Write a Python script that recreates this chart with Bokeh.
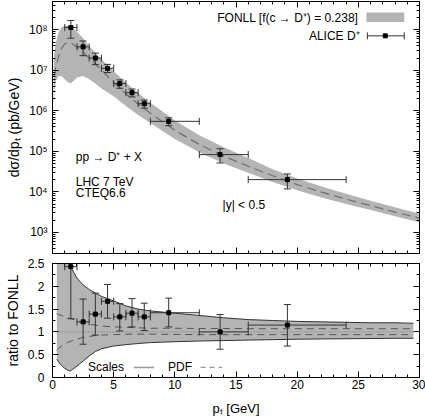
from bokeh.plotting import figure
from bokeh.layouts import column
from bokeh.models import (ColumnDataSource, Whisker, TeeHead, FixedTicker,
                          CustomJSTickFormatter, LinearAxis, LogAxis, Span, Range1d)
from bokeh.core.properties import value
from bokeh.embed import file_html
from bokeh.resources import INLINE

FONT = "Liberation Sans"

# ---------------- data ----------------
# FONLL prediction (top panel)
pt_grid = [0.1, 0.25, 0.5, 0.75, 1.0, 1.25, 1.5, 1.75, 2.0, 2.5, 3.0, 3.5, 4.0, 5.0, 6.0,
           7.0, 8.0, 10, 12, 14, 16, 18, 20, 22, 24, 26, 28, 30]
fonll_c = [7.1e6, 1.12e7, 2.24e7, 3.55e7, 4.47e7, 4.9e7, 4.79e7, 4.27e7, 3.72e7, 2.82e7,
           2.0e7, 1.45e7, 1.02e7, 5.0e6, 2.63e6, 1.48e6, 8.7e5, 3.3e5, 1.48e5, 7.6e4,
           4.27e4, 2.5e4, 1.51e4, 9.8e3, 6.6e3, 4.57e3, 3.16e3, 2.24e3]
fonll_hi = [2.0e7, 4.47e7, 8.9e7, 1.15e8, 1.26e8, 1.26e8, 1.17e8, 1.05e8, 8.9e7, 6.2e7,
            4.0e7, 2.7e7, 1.9e7, 9.5e6, 5.0e6, 2.75e6, 1.58e6, 5.75e5, 2.5e5, 1.26e5,
            6.8e4, 3.6e4, 2.14e4, 1.35e4, 8.9e3, 6.0e3, 4.17e3, 2.88e3]
fonll_lo = [1.41e6, 5.2e6, 7.2e6, 7.1e6, 6.0e6, 5.1e6, 4.8e6, 5.5e6, 6.6e6, 7.2e6,
            6.0e6, 4.7e6, 3.55e6, 2.3e6, 1.32e6, 7.9e5, 5.0e5, 2.0e5, 9.5e4, 5.0e4,
            2.95e4, 1.74e4, 1.1e4, 7.2e3, 5.0e3, 3.55e3, 2.5e3, 1.78e3]

# ALICE D+ data
pt_data = [1.5, 2.5, 3.5, 4.5, 5.5, 6.5, 7.5, 9.5, 13.7, 19.2]
pt_lo = [1, 2, 3, 4, 5, 6, 7, 8, 12, 16]
pt_hi = [2, 3, 4, 5, 6, 7, 8, 12, 16, 24]
sigma = [1.14e8, 3.8e7, 2.0e7, 1.12e7, 4.7e6, 2.8e6, 1.5e6, 5.5e5, 8.3e4, 2.0e4]
sigma_up = [1.7e8, 5.3e7, 2.66e7, 1.4e7, 5.8e6, 3.45e6, 1.85e6, 6.7e5, 1.16e5, 2.76e4]
sigma_dn = [6.2e7, 2.3e7, 1.38e7, 8.8e6, 3.6e6, 2.2e6, 1.16e6, 4.3e5, 5.15e4, 1.18e4]

# ratio panel
ratio = [2.43, 1.22, 1.39, 1.67, 1.33, 1.41, 1.33, 1.42, 1.00, 1.15]
ratio_up = [3.6, 1.72, 1.85, 2.04, 1.62, 1.73, 1.63, 1.74, 1.38, 1.60]
ratio_dn = [1.29, 0.73, 0.93, 1.30, 1.02, 1.11, 1.03, 1.11, 0.62, 0.69]

ratio_pt = [0.35, 0.5, 0.75, 1.0, 1.25, 1.45, 1.75, 2.0, 2.5, 3.0, 3.5, 4.0, 5.0, 6.0,
            7.0, 8.0, 10, 12, 14, 16, 18, 20, 22, 24, 26, 28, 29.5]
scales_hi = [3.9, 3.6, 3.2, 2.75, 2.55, 2.45, 2.3, 2.18, 2.03, 1.93, 1.85, 1.78, 1.68,
             1.57, 1.50, 1.46, 1.41, 1.36, 1.31, 1.27, 1.25, 1.23, 1.22, 1.21, 1.20, 1.20, 1.19]
scales_lo = [0.40, 0.34, 0.26, 0.20, 0.16, 0.14, 0.20, 0.25, 0.36, 0.47, 0.57, 0.63, 0.69,
             0.72, 0.745, 0.765, 0.785, 0.80, 0.81, 0.82, 0.83, 0.84, 0.845, 0.85, 0.855, 0.86, 0.86]
pdf_hi = [1.40, 1.38, 1.36, 1.33, 1.31, 1.29, 1.27, 1.25, 1.21, 1.17, 1.15, 1.13, 1.11,
          1.10, 1.09, 1.08, 1.08, 1.075, 1.075, 1.07, 1.07, 1.07, 1.07, 1.07, 1.07, 1.07, 1.07]
pdf_lo = [0.60, 0.64, 0.69, 0.73, 0.77, 0.79, 0.82, 0.84, 0.88, 0.90, 0.92, 0.93, 0.94,
          0.95, 0.95, 0.95, 0.945, 0.94, 0.94, 0.94, 0.94, 0.94, 0.94, 0.94, 0.94, 0.94, 0.94]

x_major = [0, 5, 10, 15, 20, 25, 30]
x_minor = [v for v in range(0, 31) if v % 5 != 0]
y_major = [1e3, 1e4, 1e5, 1e6, 1e7, 1e8]
y_minor = [m * 10 ** e for e in range(2, 9) for m in range(2, 10)]
r_major = [0, 0.5, 1.0, 1.5, 2.0, 2.5]
r_minor = [0.25, 0.75, 1.25, 1.75, 2.25]

# ---------------- helpers ----------------
EMPTY = CustomJSTickFormatter(code="return ''")
LOGFMT = CustomJSTickFormatter(code="""
const s = {'0':'\u2070','1':'\u00b9','2':'\u00b2','3':'\u00b3','4':'\u2074','5':'\u2075','6':'\u2076','7':'\u2077','8':'\u2078','9':'\u2079','-':'\u207b'};
const e = String(Math.round(Math.log10(tick)));
return '10' + e.split('').map(c => s[c]).join('');
""")
NUMFMT = CustomJSTickFormatter(code="return String(Math.round(tick*100)/100);")
ERR = "#333333"


def style(ax, labels=True):
    ax.major_tick_in = 6
    ax.major_tick_out = 0
    ax.minor_tick_in = 3
    ax.minor_tick_out = 0
    ax.axis_line_color = "black"
    ax.major_tick_line_color = "black"
    ax.minor_tick_line_color = "black"
    ax.major_label_text_font = FONT
    ax.major_label_text_font_size = "12px"
    ax.major_label_text_color = "black"
    ax.axis_label_text_font = FONT
    ax.axis_label_text_font_size = "14px"
    ax.axis_label_text_font_style = "normal"
    ax.axis_label_text_color = "black"
    ax.major_label_standoff = 5
    ax.axis_label_standoff = 4
    if not labels:
        ax.formatter = EMPTY
        ax.major_label_standoff = 0
        ax.axis_label_standoff = 0


def errorbars(fig, source, xl, xh, yl, yh):
    for base, up, lo, dim in (("x", yh, yl, "height"), ("y", xh, xl, "width")):
        fig.add_layout(Whisker(source=source, base=base, upper=up, lower=lo, dimension=dim,
                               line_color=ERR, line_width=1, level="annotation",
                               upper_head=TeeHead(size=7, line_color=ERR, line_width=1),
                               lower_head=TeeHead(size=7, line_color=ERR, line_width=1)))


# ---------------- top panel ----------------
top = figure(width=425, height=258, x_range=Range1d(0, 30), y_range=Range1d(300, 5e8),
             y_axis_type="log", output_backend="svg", toolbar_location=None,
             min_border_left=52, min_border_right=6, min_border_top=1, min_border_bottom=5)
top.grid.visible = False
top.outline_line_color = "black"

top.xaxis[0].ticker = FixedTicker(ticks=x_major, minor_ticks=x_minor)
style(top.xaxis[0], labels=False)
top.yaxis[0].ticker = FixedTicker(ticks=y_major, minor_ticks=y_minor)
top.yaxis[0].formatter = LOGFMT
top.yaxis[0].axis_label = "d\u03c3/dp\u209c (pb/GeV)"
style(top.yaxis[0])
ax_t = LinearAxis(ticker=FixedTicker(ticks=x_major, minor_ticks=x_minor))
style(ax_t, labels=False)
top.add_layout(ax_t, "above")
ax_r = LogAxis(ticker=FixedTicker(ticks=y_major, minor_ticks=y_minor))
style(ax_r, labels=False)
top.add_layout(ax_r, "right")

top.varea(x=pt_grid, y1=fonll_lo, y2=fonll_hi, fill_color="#b4b4b4")
top.line(pt_grid, fonll_c, line_color="#6e6e6e", line_width=1.2, line_dash="9 5")

src = ColumnDataSource(dict(x=pt_data, xl=pt_lo, xh=pt_hi, y=sigma, yu=sigma_up, yd=sigma_dn))
errorbars(top, src, "xl", "xh", "yd", "yu")
top.scatter("x", "y", source=src, marker="square", size=4, color="black", level="overlay")

# legend (top right)
top.quad(left=[25.66], right=[28.75], bottom=[1.57e8], top=[2.66e8],
         fill_color="#b4b4b4", line_color=None)
top.text(x=[25.0], y=[2.0e8], text=["FONLL [f(c \u2192 D\u207a) = 0.238]"],
         text_font=value(FONT), text_font_size="12px", text_align="right",
         text_baseline="middle", text_color="black")
top.text(x=[25.1], y=[7.1e7], text=["ALICE D\u207a"],
         text_font=value(FONT), text_font_size="12px", text_align="right",
         text_baseline="middle", text_color="black")
lsrc = ColumnDataSource(dict(x=[27.2], y=[7.1e7], xl=[25.74], xh=[28.75]))
top.add_layout(Whisker(source=lsrc, base="y", upper="xh", lower="xl", dimension="width",
                       line_color=ERR, line_width=1, level="annotation",
                       upper_head=TeeHead(size=7, line_color=ERR, line_width=1),
                       lower_head=TeeHead(size=7, line_color=ERR, line_width=1)))
top.scatter("x", "y", source=lsrc, marker="square", size=4, color="black", level="overlay")

top.text(x=[1.9, 1.9, 1.9, 13.9], y=[7.2e4, 1.78e4, 9.1e3, 4.8e3],
         text=["pp \u2192 D\u207a + X", "LHC 7 TeV", "CTEQ6.6", "|y| < 0.5"],
         text_font=value(FONT), text_font_size="12px", text_align="left",
         text_baseline="middle", text_color="black")

# ---------------- ratio panel ----------------
bot = figure(width=425, height=160, x_range=top.x_range, y_range=Range1d(0, 2.5),
             output_backend="svg", toolbar_location=None,
             min_border_left=52, min_border_right=6, min_border_top=5, min_border_bottom=40)
bot.grid.visible = False
bot.outline_line_color = "black"

bot.xaxis[0].ticker = FixedTicker(ticks=x_major, minor_ticks=x_minor)
bot.xaxis[0].formatter = NUMFMT
bot.xaxis[0].axis_label = "p\u209c [GeV]"
style(bot.xaxis[0])
bot.xaxis[0].major_label_standoff = 2
bot.xaxis[0].axis_label_standoff = 9
bot.xaxis[0].axis_label_text_font_size = "13px"
bot.yaxis[0].ticker = FixedTicker(ticks=r_major, minor_ticks=r_minor)
bot.yaxis[0].formatter = NUMFMT
bot.yaxis[0].axis_label = "ratio to FONLL"
style(bot.yaxis[0])
bot.yaxis[0].major_label_standoff = 8
bot.yaxis[0].axis_label_standoff = 4
bx_t = LinearAxis(ticker=FixedTicker(ticks=x_major, minor_ticks=x_minor))
style(bx_t, labels=False)
bot.add_layout(bx_t, "above")
by_r = LinearAxis(ticker=FixedTicker(ticks=r_major, minor_ticks=r_minor))
style(by_r, labels=False)
bot.add_layout(by_r, "right")

bot.varea(x=ratio_pt, y1=scales_lo, y2=scales_hi, fill_color="#b4b4b4")
bot.line(ratio_pt, scales_hi, line_color="#333333", line_width=1)
bot.line(ratio_pt, scales_lo, line_color="#333333", line_width=1)
bot.line(ratio_pt, pdf_hi, line_color="#555555", line_width=1, line_dash="7 5")
bot.line(ratio_pt, pdf_lo, line_color="#555555", line_width=1, line_dash="7 5")
bot.add_layout(Span(location=1, dimension="width", line_color="#777777",
                    line_width=1, line_dash="1 2"))

rsrc = ColumnDataSource(dict(x=pt_data, xl=pt_lo, xh=pt_hi, y=ratio, yu=ratio_up, yd=ratio_dn))
errorbars(bot, rsrc, "xl", "xh", "yd", "yu")
bot.scatter("x", "y", source=rsrc, marker="square", size=4, color="black", level="overlay")

# ratio legend
bot.text(x=[2.9, 9.45], y=[0.22, 0.22], text=["Scales", "PDF"],
         text_font=value(FONT), text_font_size="12px", text_align="left",
         text_baseline="middle", text_color="black")
bot.line([6.65, 8.3], [0.22, 0.22], line_color="#999999", line_width=1.5)
bot.line([12.1, 13.85], [0.22, 0.22], line_color="#999999", line_width=1.2, line_dash="5 4")

layout = column(top, bot, spacing=0)
open("out.html", "w").write(file_html(layout, INLINE))
